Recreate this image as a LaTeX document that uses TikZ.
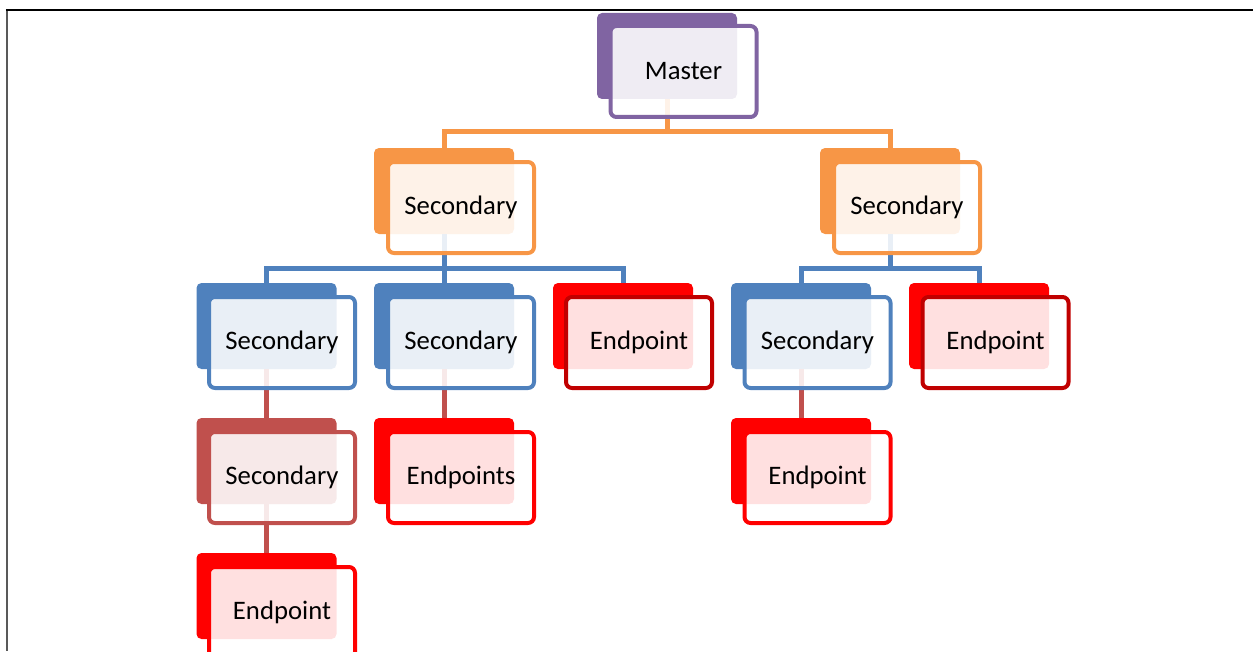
\documentclass[tikz,border=0pt]{standalone}
\usepackage{fontspec}
\setmainfont{Carlito}
\usepackage{tikz}
\definecolor{viola}{HTML}{8064A2}
\definecolor{arancio}{HTML}{F79646}
\definecolor{azzurro}{HTML}{4F81BD}
\definecolor{mattone}{HTML}{C0504D}
\definecolor{rosso}{HTML}{FF0000}
\definecolor{rossoscuro}{HTML}{C00000}
\tikzstyle{fondo} = [rectangle,rounded corners=0.1cm,minimum width=2.8cm,minimum height=1.72cm,inner sep=0pt,draw=none]
\tikzstyle{cornice} = [rectangle,rounded corners=0.12cm,minimum width=2.92cm,minimum height=1.82cm,inner sep=0pt,line width=0.08cm,fill=white,fill opacity=0.88,text opacity=1,text=black]
\tikzstyle{collegamento} = [line width=0.1cm]

\begin{document}
\begin{tikzpicture}
\tikzstyle{every node}=[font=\fontsize{15.2}{18}\selectfont]

% 1 px = 0.02cm, origin at the top left corner
\useasboundingbox (0,0) rectangle (25.06,-13.02);
\draw[line width=0.05cm,black!65] (0.14,-0.2) -- (0.14,-13.02);
\draw[line width=0.04cm,black] (0.12,-0.2) -- (25.06,-0.2);

% back boxes
\node (mastb)  [fondo,fill=viola,xshift=13.34cm,yshift=-1.12cm] {};
\node (sec1b)  [fondo,fill=arancio,xshift=8.88cm,yshift=-3.82cm] {};
\node (sec2b)  [fondo,fill=arancio,xshift=17.80cm,yshift=-3.82cm] {};

\node (sec11b) [fondo,fill=azzurro,xshift=5.33cm,yshift=-6.52cm] {};
\node (sec12b) [fondo,fill=azzurro,xshift=8.88cm,yshift=-6.52cm] {};
\node (end13b) [fondo,fill=rosso,xshift=12.46cm,yshift=-6.52cm] {};
\node (sec21b) [fondo,fill=azzurro,xshift=16.02cm,yshift=-6.52cm] {};
\node (end22b) [fondo,fill=rosso,xshift=19.58cm,yshift=-6.52cm] {};

\node (sec111b) [fondo,fill=mattone,xshift=5.33cm,yshift=-9.22cm] {};
\node (end121b) [fondo,fill=rosso,xshift=8.88cm,yshift=-9.22cm] {};
\node (end211b) [fondo,fill=rosso,xshift=16.02cm,yshift=-9.22cm] {};

\node (end1111b) [fondo,fill=rosso,xshift=5.33cm,yshift=-11.92cm] {};

% connectors
\draw[collegamento,arancio] (mastb.south) -- ++(0,-0.64) -| (sec1b.north);
\draw[collegamento,arancio] (mastb.south) -- ++(0,-0.64) -| (sec2b.north);

\draw[collegamento,azzurro] (sec1b.south) -- ++(0,-0.68) -| (sec11b.north);
\draw[collegamento,azzurro] (sec1b.south) -- ++(0,-0.68) -| (sec12b.north);
\draw[collegamento,azzurro] (sec1b.south) -- ++(0,-0.68) -| (end13b.north);
\draw[collegamento,azzurro] (sec2b.south) -- ++(0,-0.68) -| (sec21b.north);
\draw[collegamento,azzurro] (sec2b.south) -- ++(0,-0.68) -| (end22b.north);

\draw[collegamento,mattone] (sec11b.south) -- (sec111b.north);
\draw[collegamento,mattone] (sec12b.south) -- (end121b.north);
\draw[collegamento,mattone] (sec21b.south) -- (end211b.north);
\draw[collegamento,mattone] (sec111b.south) -- (end1111b.north);

% front boxes
\node (mast)  [cornice,draw=viola,xshift=13.67cm,yshift=-1.43cm] {Master};
\node (sec1)  [cornice,draw=arancio,xshift=9.22cm,yshift=-4.15cm] {Secondary};
\node (sec2)  [cornice,draw=arancio,xshift=18.14cm,yshift=-4.15cm] {Secondary};

\node (sec11) [cornice,draw=azzurro,xshift=5.64cm,yshift=-6.85cm] {Secondary};
\node (sec12) [cornice,draw=azzurro,xshift=9.22cm,yshift=-6.85cm] {Secondary};
\node (end13) [cornice,draw=rossoscuro,xshift=12.78cm,yshift=-6.85cm] {Endpoint};
\node (sec21) [cornice,draw=azzurro,xshift=16.35cm,yshift=-6.85cm] {Secondary};
\node (end22) [cornice,draw=rossoscuro,xshift=19.91cm,yshift=-6.85cm] {Endpoint};

\node (sec111) [cornice,draw=mattone,xshift=5.64cm,yshift=-9.55cm] {Secondary};
\node (end121) [cornice,draw=rosso,xshift=9.22cm,yshift=-9.55cm] {Endpoints};
\node (end211) [cornice,draw=rosso,xshift=16.35cm,yshift=-9.55cm] {Endpoint};

\node (end1111) [cornice,draw=rosso,xshift=5.64cm,yshift=-12.25cm] {Endpoint};
\end{tikzpicture}
\end{document}
